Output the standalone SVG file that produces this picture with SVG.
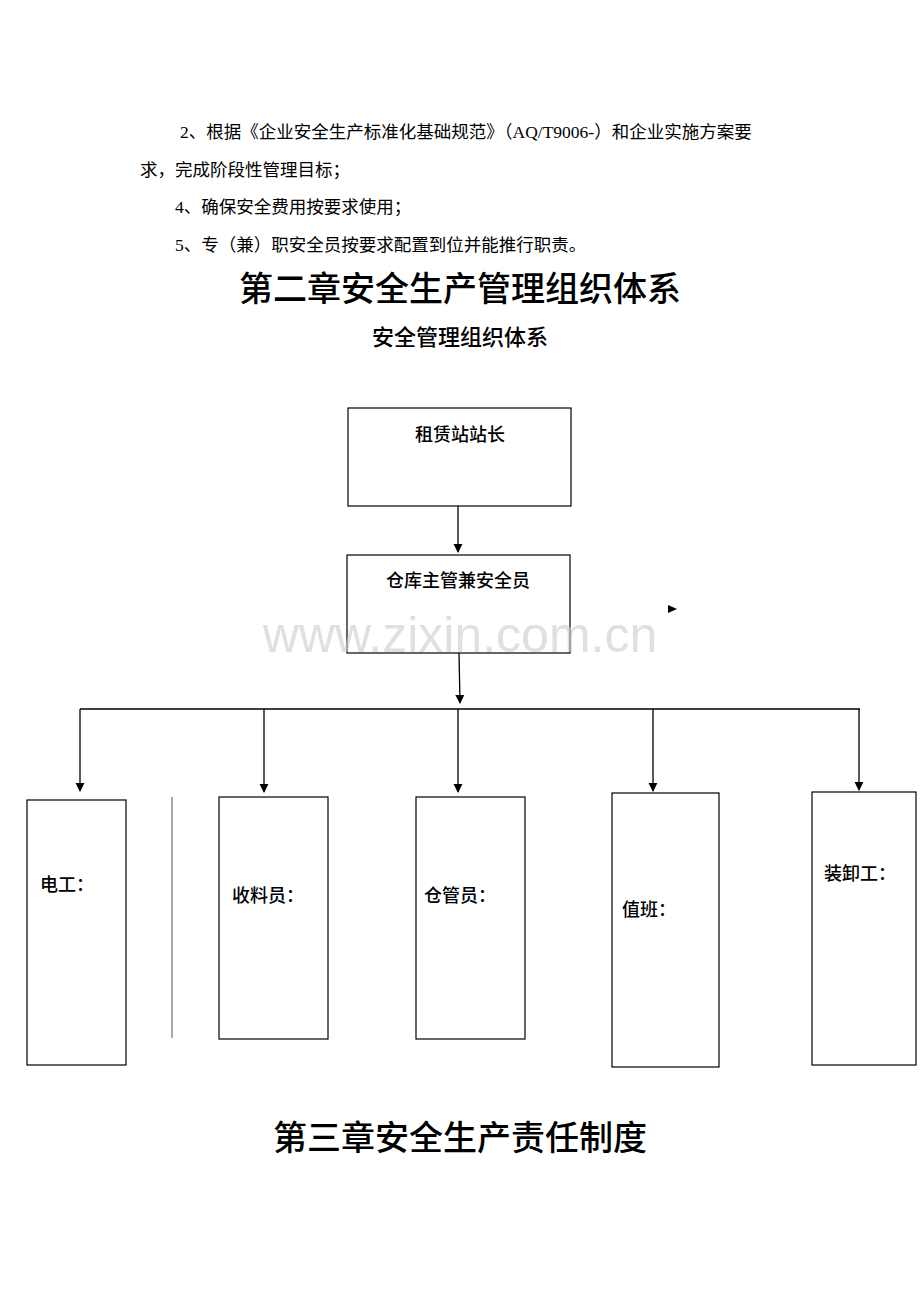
<svg xmlns="http://www.w3.org/2000/svg" width="920" height="1302" viewBox="0 0 920 1302">
<style>
.t{font-family:"Liberation Serif","Noto Sans CJK SC",serif;font-size:17.5px;fill:#000}
.h{font-family:"Noto Sans CJK SC",sans-serif;fill:#000}
.b{fill:#fff;stroke:#000;stroke-width:1.2}
.c{stroke:#000;stroke-width:1.3;fill:none}
.l{font-family:"Noto Sans CJK SC",sans-serif;font-size:18px;font-weight:500;fill:#000}
</style>
<defs><marker id="a" viewBox="0 0 10 10" refX="9" refY="5" markerWidth="7" markerHeight="7" orient="auto"><path d="M0,0L10,5L0,10z" fill="#000"/></marker></defs>
<rect width="920" height="1302" fill="#fff"/>
<text class="t" x="180" y="138">2、根据《企业安全生产标准化基础规范》（AQ/T9006-）和企业实施方案要</text>
<text class="t" x="140" y="176">求，完成阶段性管理目标；</text>
<text class="t" x="175" y="213">4、确保安全费用按要求使用；</text>
<text class="t" x="175" y="251">5、专（兼）职安全员按要求配置到位并能推行职责。</text>
<text class="h" x="460" y="301" font-size="34" font-weight="500" text-anchor="middle">第二章安全生产管理组织体系</text>
<text class="h" x="460" y="345" font-size="22" font-weight="500" text-anchor="middle">安全管理组织体系</text>
<g id="n1"><rect class="b" x="348" y="408" width="223" height="98"/><text class="l" x="460" y="441" text-anchor="middle">租赁站站长</text></g>
<g id="n2"><rect class="b" x="347" y="555" width="223" height="98"/><text class="l" x="458" y="587" text-anchor="middle">仓库主管兼安全员</text></g>
<g id="n3"><rect class="b" x="27" y="800" width="99" height="265"/><text class="l" x="40" y="891">电工：</text></g>
<g id="n4"><rect class="b" x="219" y="797" width="109" height="242"/><text class="l" x="232" y="902">收料员：</text></g>
<g id="n5"><rect class="b" x="416" y="797" width="109" height="242"/><text class="l" x="424" y="902">仓管员：</text></g>
<g id="n6"><rect class="b" x="612" y="793" width="107" height="274"/><text class="l" x="622" y="916">值班：</text></g>
<g id="n7"><rect class="b" x="812" y="792" width="104" height="273"/><text class="l" x="824" y="880">装卸工：</text></g>
<g id="edges">
<line class="c" x1="458" y1="506" x2="458" y2="552" marker-end="url(#a)"/>
<line class="c" x1="459" y1="653" x2="460" y2="703" marker-end="url(#a)"/>
<line class="c" x1="80" y1="709" x2="860" y2="709"/>
<line class="c" x1="80" y1="709" x2="80" y2="791" marker-end="url(#a)"/>
<line class="c" x1="264" y1="709" x2="264" y2="792" marker-end="url(#a)"/>
<line class="c" x1="458" y1="709" x2="458" y2="792" marker-end="url(#a)"/>
<line class="c" x1="653" y1="709" x2="653" y2="791" marker-end="url(#a)"/>
<line class="c" x1="859" y1="709" x2="859" y2="790" marker-end="url(#a)"/>
<line x1="172" y1="797" x2="172" y2="1038" stroke="#555" stroke-width="1"/>
<path d="M668,605L677,609L668,613z" fill="#000"/>
</g>
<text x="460" y="652" font-family="Liberation Sans,sans-serif" font-size="50" fill="#ccc" fill-opacity="0.6" text-anchor="middle">www.zixin.com.cn</text>
<text class="h" x="460" y="1150" font-size="34" font-weight="500" text-anchor="middle">第三章安全生产责任制度</text>
</svg>
